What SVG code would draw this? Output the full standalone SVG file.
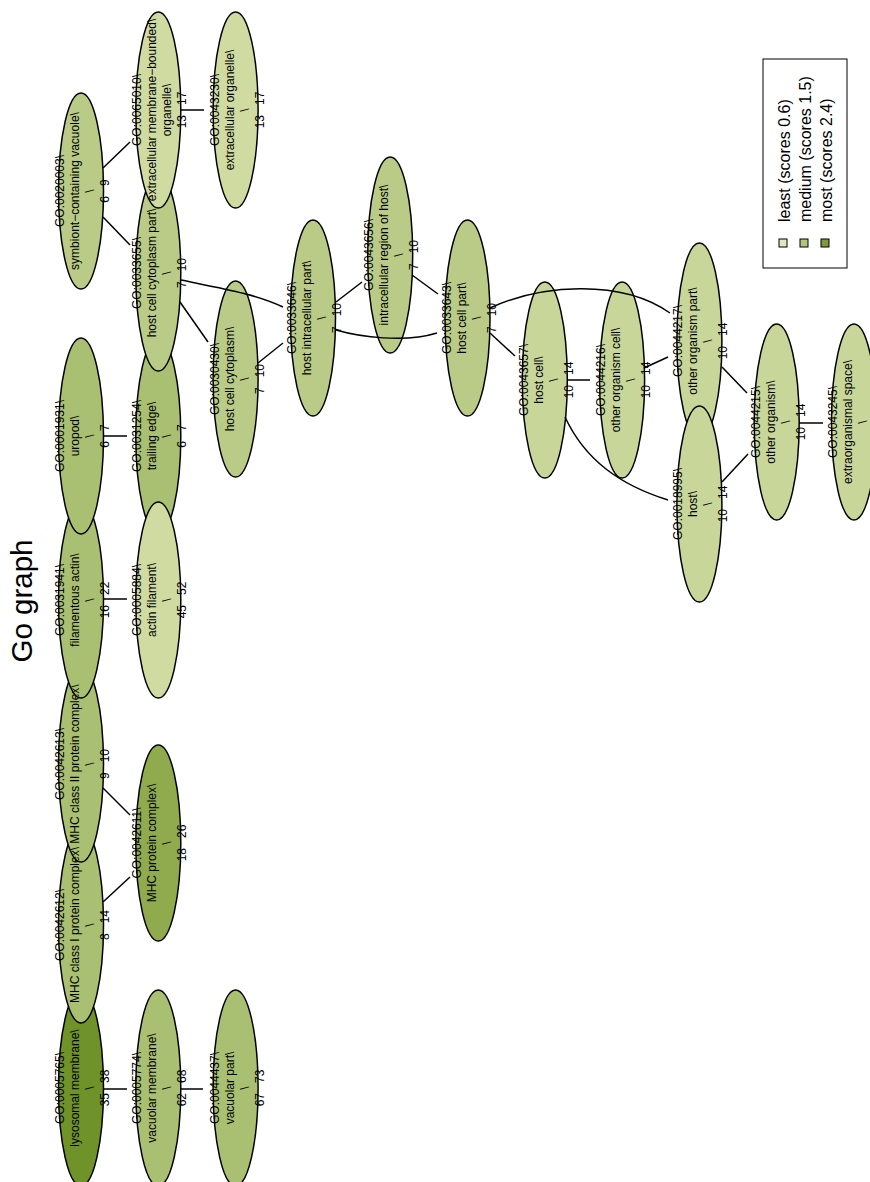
<svg xmlns="http://www.w3.org/2000/svg" xmlns:xlink="http://www.w3.org/1999/xlink" width="870" height="1182" viewBox="0 0 870 1182">
<style>
.node ellipse{stroke:#000;stroke-width:1.5}
.node text{font-family:"Liberation Sans",Arial,sans-serif;font-size:12px;text-anchor:middle;fill:#000;white-space:pre}
.c1{fill:#d0dba2}.c2{fill:#c8d69a}.c3{fill:#b9cb86}.c4{fill:#a9bf71}.c5{fill:#8fab4e}.c6{fill:#6f9229}
#edges path{fill:none;stroke:#000;stroke-width:1.5}
.lg{font-family:"Liberation Sans",Arial,sans-serif;font-size:16px;fill:#000}
.sq{stroke:#000;stroke-width:1}
</style>
<defs>
<clipPath id="clipMHC2"><ellipse cx="81" cy="764" rx="21.5" ry="97"/></clipPath>
<clipPath id="clipFA"><ellipse cx="81" cy="600" rx="21.5" ry="97"/></clipPath>
<clipPath id="clip65010"><ellipse cx="158.3" cy="110" rx="21.5" ry="97"/></clipPath>
</defs>
<rect width="870" height="1182" fill="#fff"/>
<text transform="translate(32,601) rotate(-90)" style="font-family:'Liberation Sans',Arial,sans-serif;font-size:29.5px;text-anchor:middle">Go graph</text>
<g id="nodes">
<g id="GO0005765" class="node"><ellipse cx="81" cy="1088" rx="22.5" ry="98" class="c6"/><text transform="translate(81,1088) rotate(-90)"><tspan x="0" y="-17">GO:0005765\</tspan><tspan x="0" y="-2">lysosomal membrane\</tspan><tspan x="0" y="13">\</tspan><tspan x="0" y="28">35   38</tspan></text></g>
<g id="GO0042612" class="node"><ellipse cx="81" cy="925" rx="22.5" ry="98" class="c4"/><text id="t42612" transform="translate(81,925) rotate(-90)"><tspan x="0" y="-17">GO:0042612\</tspan><tspan x="0" y="-2">MHC class I protein complex\</tspan><tspan x="0" y="13">\</tspan><tspan x="0" y="28">8   14</tspan></text></g>
<g id="GO0042613" class="node"><ellipse cx="81" cy="764" rx="22.5" ry="98" class="c4"/><text id="t42613" transform="translate(81,764) rotate(-90)"><tspan x="0" y="-17">GO:0042613\</tspan><tspan x="0" y="-2">MHC class II protein complex\</tspan><tspan x="0" y="13">\</tspan><tspan x="0" y="28">9   10</tspan></text></g>
<g id="GO0031941" class="node"><ellipse cx="81" cy="600" rx="22.5" ry="98" class="c4"/><text transform="translate(81,600) rotate(-90)"><tspan x="0" y="-17">GO:0031941\</tspan><tspan x="0" y="-2">filamentous actin\</tspan><tspan x="0" y="13">\</tspan><tspan x="0" y="28">16   22</tspan></text></g>
<g id="GO0001931" class="node"><ellipse cx="81" cy="436" rx="22.5" ry="98" class="c4"/><text transform="translate(81,436) rotate(-90)"><tspan x="0" y="-17">GO:0001931\</tspan><tspan x="0" y="-2">uropod\</tspan><tspan x="0" y="13">\</tspan><tspan x="0" y="28">6   7</tspan></text></g>
<g id="GO0020003" class="node"><ellipse cx="81" cy="191" rx="22.5" ry="98" class="c3"/><text transform="translate(81,191) rotate(-90)"><tspan x="0" y="-17">GO:0020003\</tspan><tspan x="0" y="-2">symbiont−containing vacuole\</tspan><tspan x="0" y="13">\</tspan><tspan x="0" y="28">6   9</tspan></text></g>
<g id="GO0031254" class="node"><ellipse cx="158.3" cy="436" rx="22.5" ry="98" class="c4"/><text transform="translate(158.3,436) rotate(-90)"><tspan x="0" y="-17">GO:0031254\</tspan><tspan x="0" y="-2">trailing edge\</tspan><tspan x="0" y="13">\</tspan><tspan x="0" y="28">6   7</tspan></text></g>
<g id="GO0005884" class="node"><ellipse cx="158.3" cy="600" rx="22.5" ry="98" class="c1"/><text transform="translate(158.3,600) rotate(-90)"><tspan x="0" y="-17">GO:0005884\</tspan><tspan x="0" y="-2">actin filament\</tspan><tspan x="0" y="13">\</tspan><tspan x="0" y="28">45   52</tspan></text></g>
<g id="GO0033655" class="node"><ellipse cx="158.3" cy="273" rx="22.5" ry="98" class="c3"/><text id="t33655" transform="translate(158.3,273) rotate(-90)"><tspan x="0" y="-17">GO:0033655\</tspan><tspan x="0" y="-2">host cell cytoplasm part\</tspan><tspan x="0" y="13">\</tspan><tspan x="0" y="28">7   10</tspan></text></g>
<g id="GO0065010" class="node"><ellipse cx="158.3" cy="110" rx="22.5" ry="98" class="c1"/><text transform="translate(158.3,110) rotate(-90)"><tspan x="0" y="-17">GO:0065010\</tspan><tspan x="0" y="-2">extracellular membrane−bounded\</tspan><tspan x="0" y="13">organelle\</tspan><tspan x="0" y="28">13   17</tspan></text></g>
<g id="GO0042611" class="node"><ellipse cx="158.3" cy="843" rx="22.5" ry="98" class="c5"/><text transform="translate(158.3,843) rotate(-90)"><tspan x="0" y="-17">GO:0042611\</tspan><tspan x="0" y="-2">MHC protein complex\</tspan><tspan x="0" y="13">\</tspan><tspan x="0" y="28">18   26</tspan></text></g>
<g id="GO0005774" class="node"><ellipse cx="158.3" cy="1088" rx="22.5" ry="98" class="c4"/><text transform="translate(158.3,1088) rotate(-90)"><tspan x="0" y="-17">GO:0005774\</tspan><tspan x="0" y="-2">vacuolar membrane\</tspan><tspan x="0" y="13">\</tspan><tspan x="0" y="28">62   68</tspan></text></g>
<g id="GO0043230" class="node"><ellipse cx="235.6" cy="110" rx="22.5" ry="98" class="c1"/><text transform="translate(235.6,110) rotate(-90)"><tspan x="0" y="-17">GO:0043230\</tspan><tspan x="0" y="-2">extracellular organelle\</tspan><tspan x="0" y="13">\</tspan><tspan x="0" y="28">13   17</tspan></text></g>
<g id="GO0030430" class="node"><ellipse cx="235.6" cy="379" rx="22.5" ry="98" class="c3"/><text transform="translate(235.6,379) rotate(-90)"><tspan x="0" y="-17">GO:0030430\</tspan><tspan x="0" y="-2">host cell cytoplasm\</tspan><tspan x="0" y="13">\</tspan><tspan x="0" y="28">7   10</tspan></text></g>
<g id="GO0044437" class="node"><ellipse cx="235.6" cy="1088" rx="22.5" ry="98" class="c4"/><text transform="translate(235.6,1088) rotate(-90)"><tspan x="0" y="-17">GO:0044437\</tspan><tspan x="0" y="-2">vacuolar part\</tspan><tspan x="0" y="13">\</tspan><tspan x="0" y="28">67   73</tspan></text></g>
<g id="GO0033646" class="node"><ellipse cx="313" cy="318" rx="22.5" ry="98" class="c3"/><text transform="translate(313,318) rotate(-90)"><tspan x="0" y="-17">GO:0033646\</tspan><tspan x="0" y="-2">host intracellular part\</tspan><tspan x="0" y="13">\</tspan><tspan x="0" y="28">7   10</tspan></text></g>
<g id="GO0043656" class="node"><ellipse cx="390.2" cy="255" rx="22.5" ry="98" class="c3"/><text transform="translate(390.2,255) rotate(-90)"><tspan x="0" y="-17">GO:0043656\</tspan><tspan x="0" y="-2">intracellular region of host\</tspan><tspan x="0" y="13">\</tspan><tspan x="0" y="28">7   10</tspan></text></g>
<g id="GO0033643" class="node"><ellipse cx="467.5" cy="318" rx="22.5" ry="98" class="c3"/><text transform="translate(467.5,318) rotate(-90)"><tspan x="0" y="-17">GO:0033643\</tspan><tspan x="0" y="-2">host cell part\</tspan><tspan x="0" y="13">\</tspan><tspan x="0" y="28">7   10</tspan></text></g>
<g id="GO0043657" class="node"><ellipse cx="544.8" cy="380" rx="22.5" ry="98" class="c2"/><text transform="translate(544.8,380) rotate(-90)"><tspan x="0" y="-17">GO:0043657\</tspan><tspan x="0" y="-2">host cell\</tspan><tspan x="0" y="13">\</tspan><tspan x="0" y="28">10   14</tspan></text></g>
<g id="GO0044216" class="node"><ellipse cx="622.1" cy="380" rx="22.5" ry="98" class="c2"/><text transform="translate(622.1,380) rotate(-90)"><tspan x="0" y="-17">GO:0044216\</tspan><tspan x="0" y="-2">other organism cell\</tspan><tspan x="0" y="13">\</tspan><tspan x="0" y="28">10   14</tspan></text></g>
<g id="GO0044217" class="node"><ellipse cx="699.4" cy="341" rx="22.5" ry="98" class="c2"/><text transform="translate(699.4,341) rotate(-90)"><tspan x="0" y="-17">GO:0044217\</tspan><tspan x="0" y="-2">other organism part\</tspan><tspan x="0" y="13">\</tspan><tspan x="0" y="28">10   14</tspan></text></g>
<g id="GO0018995" class="node"><ellipse cx="699.4" cy="504" rx="22.5" ry="98" class="c2"/><text transform="translate(699.4,504) rotate(-90)"><tspan x="0" y="-17">GO:0018995\</tspan><tspan x="0" y="-2">host\</tspan><tspan x="0" y="13">\</tspan><tspan x="0" y="28">10   14</tspan></text></g>
<g id="GO0044215" class="node"><ellipse cx="776.7" cy="422" rx="22.5" ry="98" class="c2"/><text transform="translate(776.7,422) rotate(-90)"><tspan x="0" y="-17">GO:0044215\</tspan><tspan x="0" y="-2">other organism\</tspan><tspan x="0" y="13">\</tspan><tspan x="0" y="28">10   14</tspan></text></g>
<g id="GO0043245" class="node"><ellipse cx="854" cy="422" rx="22.5" ry="98" class="c2"/><text transform="translate(854,422) rotate(-90)"><tspan x="0" y="-17">GO:0043245\</tspan><tspan x="0" y="-2">extraorganismal space\</tspan><tspan x="0" y="13">\</tspan></text></g>
<g id="label-overlay" class="node">
<use href="#t42612" xlink:href="#t42612" clip-path="url(#clipMHC2)"/>
<use href="#t42613" xlink:href="#t42613" clip-path="url(#clipFA)"/>
<use href="#t33655" xlink:href="#t33655" clip-path="url(#clip65010)"/>
</g>
</g>
<g id="edges">
<path d="M103,168 L130,142"/>
<path d="M103,217 L130,245"/>
<path d="M181,110 L204,110"/>
<path d="M181,280 C225,289 255,294 283,307"/>
<path d="M180,302 L208,342"/>
<path d="M258,363 L283,343"/>
<path d="M336,302 L362,282"/>
<path d="M336,330 C360,337 405,343 437,333"/>
<path d="M412,275 L438,294"/>
<path d="M490,308 C540,285 620,278 670,313"/>
<path d="M490,333 L515,356"/>
<path d="M567,380 L590,380"/>
<path d="M565,417 C585,460 620,485 668,500"/>
<path d="M644,368 L668,357"/>
<path d="M722,367 L747,393"/>
<path d="M722,482 L748,454"/>
<path d="M799,423 L823,423"/>
<path d="M103,436 L127,436"/>
<path d="M103,599 L127,599"/>
<path d="M103,788 L130,815"/>
<path d="M103,902 L130,877"/>
<path d="M103,1089 L127,1089"/>
<path d="M180,1089 L203,1089"/>
</g>
<g id="legend">
<rect x="763" y="59" width="84" height="209" fill="#fff" stroke="#000" stroke-width="1"/>
<rect class="sq" x="779" y="239" width="8" height="8" fill="#e0e8bf"/>
<rect class="sq" x="800" y="239" width="8" height="8" fill="#b0c47d"/>
<rect class="sq" x="821" y="239" width="8" height="8" fill="#7e9a3c"/>
<text class="lg" transform="translate(789.5,222) rotate(-90)">least (scores 0.6)</text>
<text class="lg" transform="translate(810.5,222) rotate(-90)">medium (scores 1.5)</text>
<text class="lg" transform="translate(831.5,222) rotate(-90)">most (scores 2.4)</text>
</g>
</svg>
